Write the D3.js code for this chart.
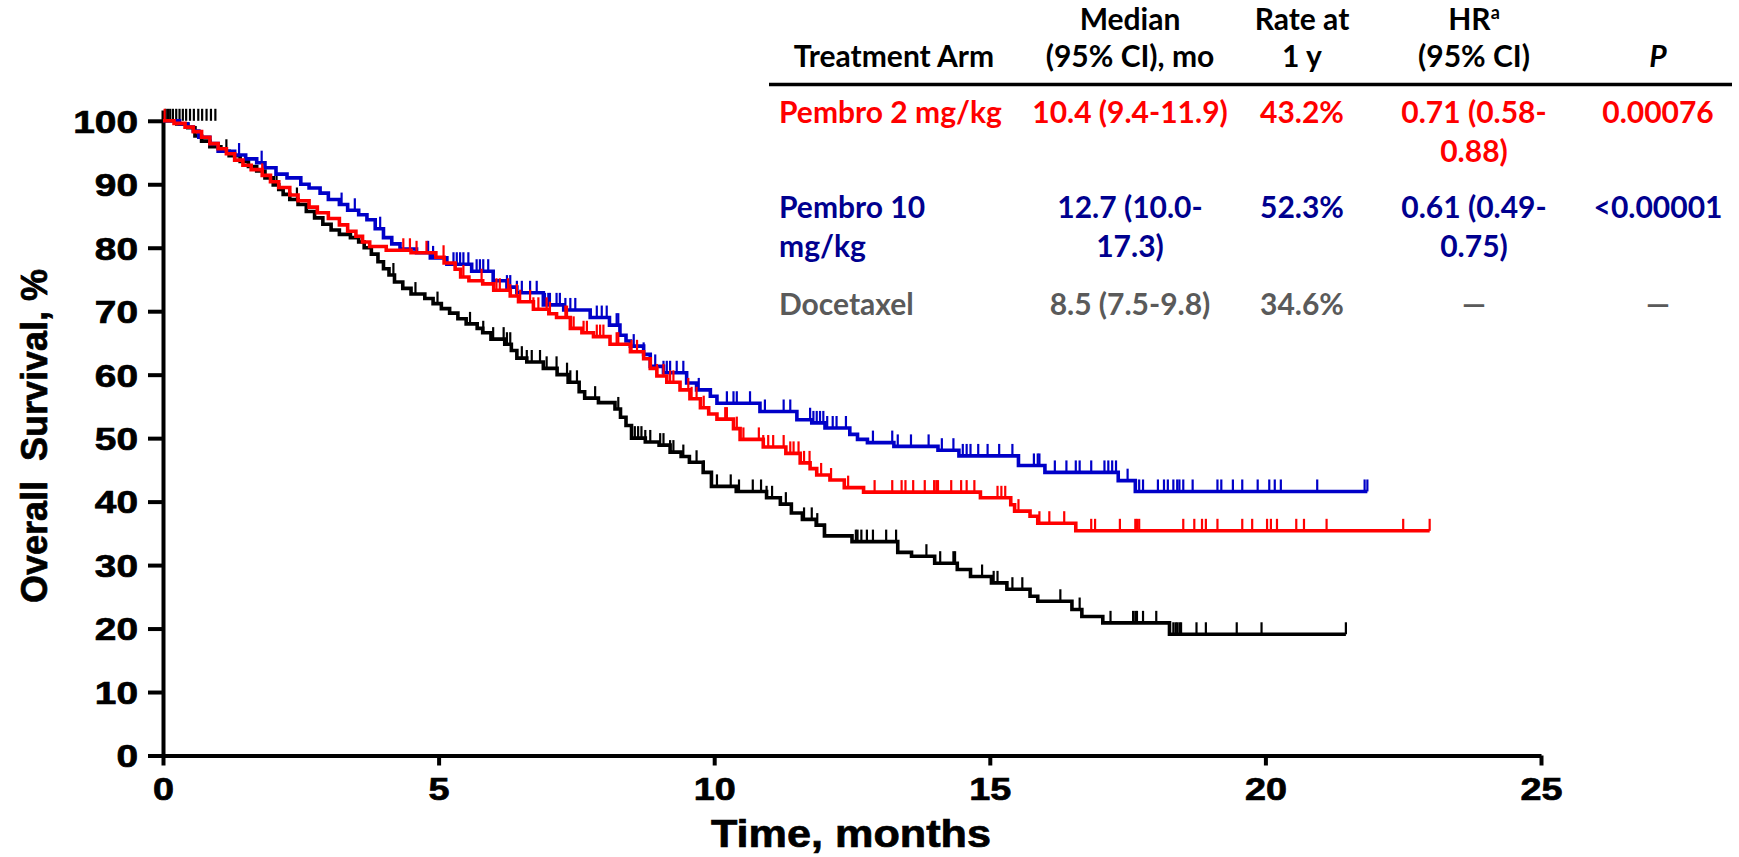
<!DOCTYPE html>
<html>
<head>
<meta charset="utf-8">
<script src="https://cdn.jsdelivr.net/npm/d3@7"></script>
<style>
  html, body { margin: 0; padding: 0; background: #fff; }
  svg { display: block; }
</style>
</head>
<body>
<svg id="chart" width="1739" height="857"></svg>
<script>
// ---------- Kaplan-Meier estimates: [month, overall survival %] at each event step ----------
const pembro2Steps = [
  [0,100],[0.2,99.6],[0.4,99.0],[0.55,98.3],[0.7,97.4],[0.85,96.4],[1.0,95.6],[1.15,94.8],
  [1.3,93.8],[1.45,93.0],[1.6,92.3],[1.8,91.4],[1.95,90.4],[2.1,89.5],[2.3,88.3],[2.45,87.4],
  [2.65,86.4],[2.8,85.5],[3.0,84.6],[3.2,83.6],[3.35,82.6],[3.5,81.8],[3.62,80.9],[3.75,80.2],
  [4.05,79.6],[4.5,79.2],[4.95,78.5],[5.1,77.6],[5.3,76.6],[5.4,75.4],[5.55,74.8],[5.8,74.3],
  [6.0,73.3],[6.3,72.4],[6.45,71.5],[6.72,70.3],[7.0,69.6],[7.14,69.0],[7.39,67.3],[7.6,66.6],
  [7.81,66.0],[8.11,64.8],[8.48,63.6],[8.72,62.5],[8.84,61.0],[8.96,59.8],[9.14,58.8],[9.38,57.6],
  [9.56,56.2],[9.75,54.8],[9.9,53.8],[10.05,53.0],[10.35,51.5],[10.47,49.8],[10.89,48.6],[11.3,47.6],
  [11.56,46.1],[11.74,45.2],[11.86,44.2],[12.1,43.4],[12.36,42.2],[12.71,41.5],[14.83,40.6],
  [15.38,39.5],[15.45,38.5],[15.73,37.7],[15.87,36.6],[16.56,35.4]
];
const pembro2End = 22.98;
const pembro2Censor = [
  0.03,1.8,4.36,4.48,4.6,4.78,5.09,5.45,5.78,6.05,6.11,6.26,6.3,6.42,6.48,6.66,6.72,6.81,6.96,7.02,
  7.3,7.33,7.39,7.45,7.63,7.69,7.87,7.93,7.99,8.23,8.26,8.5,8.6,8.96,9.08,9.2,9.26,9.53,9.59,9.68,
  9.81,10.2,10.23,10.41,10.53,10.81,10.89,10.98,11.07,11.26,11.38,11.44,11.53,11.63,11.73,11.94,
  12.12,12.43,12.91,13.23,13.4,13.47,13.61,13.82,13.99,14.03,14.06,14.3,14.48,14.58,14.72,15.14,
  15.21,15.28,15.52,15.9,16.08,16.35,16.84,16.91,17.36,17.64,17.67,17.71,18.51,18.71,18.85,18.92,
  19.13,19.58,19.76,20.03,20.1,20.21,20.56,20.7,21.11,22.5,22.98
];

const pembro10Steps = [
  [0,100],[0.3,99.5],[0.45,99.0],[0.55,98.4],[0.65,97.4],[0.85,96.4],[1.0,95.2],[1.3,94.6],
  [1.5,94.0],[1.7,93.4],[1.85,92.6],[2.05,91.6],[2.25,91.0],[2.5,90.0],[2.65,89.4],[2.85,88.6],
  [3.0,87.6],[3.2,86.8],[3.35,85.9],[3.55,85.2],[3.7,84.4],[3.85,83.0],[4.0,81.6],[4.15,80.6],
  [4.3,79.8],[4.6,79.2],[4.85,78.4],[5.15,77.4],[5.6,76.3],[5.99,74.8],[6.24,73.8],[6.42,72.9],
  [6.9,71.0],[7.27,70.2],[7.75,69.0],[8.1,67.8],[8.29,66.2],[8.4,65.3],[8.48,64.5],[8.72,63.2],
  [8.84,61.3],[9.08,60.3],[9.5,58.7],[9.68,57.6],[9.93,56.6],[10.05,55.5],[10.83,54.2],[11.5,52.9],
  [11.77,52.4],[12.01,51.6],[12.46,50.6],[12.6,49.8],[12.78,49.3],[13.26,48.7],[14.06,48.1],
  [14.44,47.2],[15.52,45.7],[16.0,44.6],[17.33,43.3],[17.64,41.6]
];
const pembro10End = 21.85;
const pembro10Censor = [
  1.38,1.79,3.24,3.48,3.94,4.81,4.9,5.27,5.33,5.39,5.45,5.54,5.69,5.75,5.81,5.9,6.24,6.3,6.42,6.51,
  6.66,6.78,6.93,6.99,7.02,7.14,7.2,7.3,7.39,7.48,7.87,7.96,8.05,8.23,8.26,8.54,8.72,8.84,8.93,9.08,
  9.14,9.2,9.32,9.44,9.72,10.23,10.35,10.41,10.65,10.92,11.26,11.38,11.74,11.8,11.86,11.92,11.98,
  12.05,12.15,12.22,12.39,12.88,13.23,13.33,13.57,13.89,14.13,14.34,14.51,14.58,14.65,14.79,14.96,
  15.17,15.41,15.8,15.87,15.9,16.18,16.39,16.56,16.63,16.84,17.08,17.15,17.22,17.29,17.5,17.71,
  17.78,18.05,18.16,18.23,18.33,18.4,18.44,18.51,18.68,19.13,19.2,19.41,19.58,19.86,20.07,20.17,
  20.28,20.94,21.8,21.85
];

const docetaxelSteps = [
  [0,100],[0.25,99.5],[0.45,98.9],[0.58,97.6],[0.7,96.8],[0.85,95.9],[1.05,95.2],[1.2,94.5],
  [1.4,93.6],[1.55,92.8],[1.7,92.1],[1.85,91.0],[2.0,89.9],[2.1,89.2],[2.18,88.4],[2.3,87.6],
  [2.45,86.8],[2.6,85.7],[2.75,84.7],[2.9,83.7],[3.05,82.8],[3.2,82.1],[3.4,81.6],[3.55,80.9],
  [3.65,80.0],[3.78,79.0],[3.9,77.8],[4.0,76.7],[4.1,75.7],[4.2,74.6],[4.35,73.6],[4.5,72.7],
  [4.75,72.0],[4.9,71.2],[5.05,70.4],[5.2,69.7],[5.35,68.8],[5.5,68.0],[5.7,67.3],[5.8,66.6],
  [5.95,65.6],[6.2,64.8],[6.32,63.8],[6.42,62.6],[6.6,62.0],[6.9,61.0],[7.15,60.0],[7.35,58.8],
  [7.55,57.3],[7.65,56.3],[7.9,55.6],[8.2,54.6],[8.3,53.3],[8.4,52.0],[8.5,50.0],[8.75,49.4],
  [9.0,48.9],[9.2,47.8],[9.4,47.1],[9.55,46.2],[9.8,44.6],[9.95,42.4],[10.4,41.6],[10.95,40.6],
  [11.2,39.6],[11.4,38.2],[11.6,37.2],[11.85,36.3],[12.0,34.6],[12.5,33.7],[13.33,32.0],[13.58,31.4],
  [14.0,30.3],[14.41,29.3],[14.65,28.2],[15.03,27.2],[15.31,26.2],[15.73,25.1],[15.87,24.3],
  [16.49,23.0],[16.67,21.9],[17.05,20.9],[18.26,19.1]
];
const docetaxelEnd = 21.46;
// early censoring plotted on the 100% line
const docetaxelCensorTop = [0.05,0.09,0.13,0.18,0.24,0.3,0.36,0.42,0.49,0.56,0.64,0.71,0.79,0.87,0.95];
const docetaxelCensor = [
  1.15,2.06,2.43,4.18,4.58,4.98,5.57,5.81,5.99,6.18,6.24,6.3,6.51,6.6,6.69,6.84,6.96,7.14,7.33,7.39,
  7.51,7.84,8.26,8.5,8.56,8.62,8.68,8.75,8.84,9.02,9.08,9.2,9.26,9.44,9.68,9.81,10.05,10.3,10.45,
  10.7,10.85,10.95,11.05,11.3,11.63,11.77,11.87,12.01,12.57,12.6,12.67,12.77,12.88,13.12,13.3,13.85,
  14.1,14.34,14.37,14.86,15.07,15.14,15.41,15.59,16.28,16.63,17.19,17.6,17.64,17.67,17.78,18.02,
  18.33,18.37,18.4,18.44,18.47,18.75,18.92,19.48,19.93,21.46
];

const xTicks = [0, 5, 10, 15, 20, 25];
const yTicks = [0, 10, 20, 30, 40, 50, 60, 70, 80, 90, 100];

// ---------- summary table ----------
const headerRow1 = ["", "Median", "Rate at", "HR", ""];
const headerRow2 = ["Treatment Arm", "(95% CI), mo", "1 y", "(95% CI)", "P"];
const armNames   = [["Pembro 2 mg/kg"], ["Pembro 10", "mg/kg"], ["Docetaxel"]];
const medianText = [["10.4 (9.4-11.9)"], ["12.7 (10.0-", "17.3)"], ["8.5 (7.5-9.8)"]];
const rateText   = [["43.2%"], ["52.3%"], ["34.6%"]];
const hrText     = [["0.71 (0.58-", "0.88)"], ["0.61 (0.49-", "0.75)"], ["\u2014"]];
const pText      = [["0.00076"], ["<0.00001"], ["\u2014"]];
const armColors  = ["#ff0000", "#00008f", "#5a5a5a"];

// ---------- layout ----------
const svg = d3.select("#chart");
const x = d3.scaleLinear().domain([0, 25]).range([163, 1541]);
const y = d3.scaleLinear().domain([0, 101.7]).range([755.5, 110]);

const axisFont = "'Liberation Sans', Arial, sans-serif";
function heavy(sel) {
  return sel.attr("font-family", axisFont).attr("font-weight", "bold")
    .attr("fill", "#000").attr("stroke", "#000").attr("stroke-width", 0.7)
    .attr("paint-order", "stroke");
}

// y axis
const gy = svg.append("g").attr("transform", `translate(${x(0)},0)`)
  .call(d3.axisLeft(y).tickValues(yTicks).tickSize(15).tickSizeOuter(0).tickPadding(10));
gy.select(".domain").attr("stroke", "#000").attr("stroke-width", 4);
gy.selectAll(".tick line").attr("stroke", "#000").attr("stroke-width", 4);
heavy(gy.selectAll(".tick text"))
  .attr("font-size", 31.5).attr("dy", "0.36em")
  .attr("textLength", d => String(d).length * 21.6)
  .attr("lengthAdjust", "spacingAndGlyphs");

// x axis
const gx = svg.append("g").attr("transform", `translate(0,${y(0)})`)
  .call(d3.axisBottom(x).tickValues(xTicks).tickSize(10).tickSizeOuter(0).tickPadding(12));
gx.select(".domain").attr("stroke", "#000").attr("stroke-width", 4);
gx.selectAll(".tick line").attr("stroke", "#000").attr("stroke-width", 4);
heavy(gx.selectAll(".tick text"))
  .attr("font-size", 31.5)
  .attr("textLength", d => String(d).length * 21)
  .attr("lengthAdjust", "spacingAndGlyphs");

// axis titles
heavy(svg.append("text"))
  .attr("transform", "translate(47,436) rotate(-90)")
  .attr("text-anchor", "middle")
  .attr("font-size", 36)
  .style("white-space", "pre")
  .text("Overall  Survival, %");

heavy(svg.append("text"))
  .attr("x", 711).attr("y", 847)
  .attr("font-size", 38)
  .attr("textLength", 280).attr("lengthAdjust", "spacingAndGlyphs")
  .text("Time, months");

// ---------- survival curves ----------
const stepLine = d3.line().x(d => x(d[0])).y(d => y(d[1])).curve(d3.curveStepAfter);
function survivalAt(steps, t) {
  let s = steps[0][1];
  for (const [tt, v] of steps) { if (tt <= t) s = v; else break; }
  return s;
}
const arms = [
  { steps: docetaxelSteps, end: docetaxelEnd, censor: docetaxelCensor, color: "#000000" },
  { steps: pembro10Steps, end: pembro10End, censor: pembro10Censor, color: "#0000c8" },
  { steps: pembro2Steps, end: pembro2End, censor: pembro2Censor, color: "#ff0000" }
];
const tickLen = 12;
arms.forEach(a => {
  const pts = a.steps.concat([[a.end, a.steps[a.steps.length - 1][1]]]);
  const g = svg.append("g");
  g.append("path").attr("d", stepLine(pts))
    .attr("fill", "none").attr("stroke", a.color).attr("stroke-width", 3.6)
    .attr("stroke-linejoin", "miter");
  g.selectAll("line.censor").data(a.censor).join("line").attr("class", "censor")
    .attr("x1", d => x(d)).attr("x2", d => x(d))
    .attr("y1", d => y(survivalAt(a.steps, d))).attr("y2", d => y(survivalAt(a.steps, d)) - tickLen)
    .attr("stroke", a.color).attr("stroke-width", 2.2);
  if (a.steps === docetaxelSteps) {
    g.selectAll("line.top").data(docetaxelCensorTop).join("line").attr("class", "top")
      .attr("x1", d => x(d)).attr("x2", d => x(d))
      .attr("y1", y(100)).attr("y2", y(100) - tickLen)
      .attr("stroke", a.color).attr("stroke-width", 2.2);
  }
});

// ---------- table ----------
const tableFont = "Lato, 'Open Sans', sans-serif";
const colCenters = [894, 1130, 1302, 1474, 1658];
const nameX = 779;
const tbl = svg.append("g").attr("font-family", tableFont).attr("font-weight", "bold").attr("font-size", 30);

headerRow1.forEach((t, i) => {
  if (!t) return;
  const txt = tbl.append("text").attr("x", colCenters[i]).attr("y", 30).attr("text-anchor", "middle").attr("fill", "#000");
  txt.append("tspan").text(t);
  if (t === "HR") txt.append("tspan").attr("font-size", 18).attr("dy", -11).text("a");
});
headerRow2.forEach((t, i) => {
  tbl.append("text").attr("x", colCenters[i]).attr("y", 67).attr("text-anchor", "middle")
    .attr("fill", "#000").attr("font-style", t === "P" ? "italic" : "normal").text(t);
});
tbl.append("line").attr("x1", 769).attr("x2", 1732).attr("y1", 84.5).attr("y2", 84.5)
  .attr("stroke", "#000").attr("stroke-width", 3.5);

const rowBaselines = [123, 218, 315];
const lineGap = 38.5;
const columns = [medianText, rateText, hrText, pText];
armNames.forEach((lines, r) => {
  const col = armColors[r];
  lines.forEach((l, k) => {
    tbl.append("text").attr("x", nameX).attr("y", rowBaselines[r] + k * lineGap).attr("fill", col).text(l);
  });
  columns.forEach((c, ci) => {
    c[r].forEach((l, k) => {
      tbl.append("text").attr("x", colCenters[ci + 1]).attr("y", rowBaselines[r] + k * lineGap)
        .attr("text-anchor", "middle").attr("fill", col).text(l);
    });
  });
});
</script>
</body>
</html>
